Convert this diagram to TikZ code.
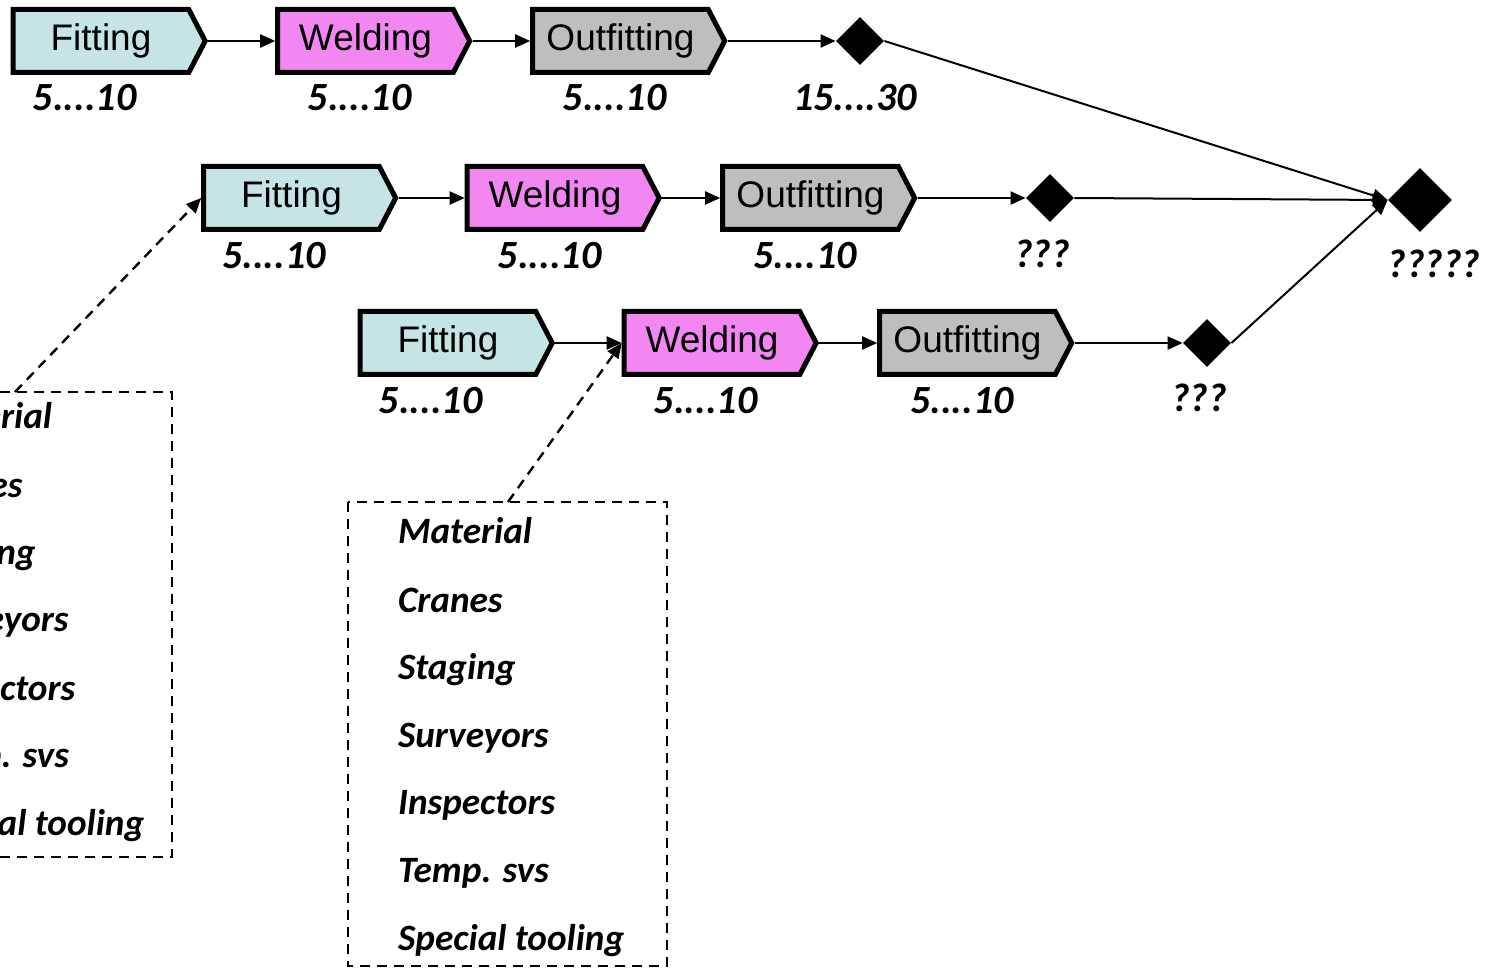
\documentclass[tikz,border=0pt]{standalone}
\usepackage{fontspec}
\setmainfont{Liberation Sans}
\newfontfamily\calfont{Carlito}
\usetikzlibrary{shapes.symbols,shapes.geometric,arrows.meta}

\definecolor{fitcol}{RGB}{198,228,228}
\definecolor{weldcol}{RGB}{242,135,242}
\definecolor{outcol}{RGB}{190,190,190}

\begin{document}
\begin{tikzpicture}[x=0.5pt,y=-0.5pt,
  stage/.style={signal, signal to=east, signal pointer angle=125,
    draw=black, line width=2.5pt, minimum width=96pt, minimum height=31.5pt,
    inner sep=0pt, font=\fontsize{18.5}{20}\selectfont},
  fitting/.style={stage, fill=fitcol},
  welding/.style={stage, fill=weldcol},
  outfitting/.style={stage, fill=outcol},
  milestone/.style={diamond, aspect=1, fill=black, inner sep=0pt, minimum size=24pt},
  dur/.style={font=\calfont\bfseries\itshape\fontsize{20}{22}\selectfont},
  res/.style={anchor=base west, font=\calfont\bfseries\itshape\fontsize{18.6}{20}\selectfont},
  flow/.style={line width=1pt, -{Triangle[length=7.5pt,width=6.5pt]}},
  callout/.style={line width=1.2pt, dash pattern=on 5pt off 3.5pt},
  calloutarrow/.style={callout, -{Triangle[length=7.5pt,width=6.5pt]}}
]
\useasboundingbox (0,0) rectangle (1501,968);
\clip (0,0) rectangle (1501,968);

% row 1
\node[fitting]    (f1) at (101,41)   {Fitting};
\node[welding]    (w1) at (365.5,41) {Welding};
\node[outfitting] (o1) at (620.5,41) {Outfitting};
\node[milestone]  (m1) at (860,41)   {};
% row 2
\node[fitting]    (f2) at (291.5,198) {Fitting};
\node[welding]    (w2) at (555,198)   {Welding};
\node[outfitting] (o2) at (810.5,198) {Outfitting};
\node[milestone]  (m2) at (1050,198)  {};
% row 3
\node[fitting]    (f3) at (448,343)   {Fitting};
\node[welding]    (w3) at (712,343)   {Welding};
\node[outfitting] (o3) at (967.5,343) {Outfitting};
\node[milestone]  (m3) at (1207,343)  {};
% final milestone
\node[milestone, minimum size=32pt] (mf) at (1420,200) {};

% durations
\node[dur] (d11) at (84.5,97.5)  {5....10};
\node[dur] (d12) at (359.5,97.5) {5....10};
\node[dur] (d13) at (614.5,97.5) {5....10};
\node[dur] (d14) at (855,97.5)   {15....30};
\node[dur] (d21) at (274,256)    {5....10};
\node[dur] (d22) at (549.5,256)  {5....10};
\node[dur] (d23) at (805,256)    {5....10};
\node[dur] (d24) at (1042,254)   {???};
\node[dur] (d31) at (430.5,400.5) {5....10};
\node[dur] (d32) at (705.5,400.5) {5....10};
\node[dur] (d33) at (962,400.5)   {5....10};
\node[dur] (d34) at (1199,398)    {???};
\node[dur] (dff) at (1434,264)    {?????};

% sequence arrows
\draw[flow] (f1.east) -- (w1.west);
\draw[flow] (w1.east) -- (o1.west);
\draw[flow] (o1.east) -- (m1.west);
\draw[flow] (f2.east) -- (w2.west);
\draw[flow] (w2.east) -- (o2.west);
\draw[flow] (o2.east) -- (m2.west);
\draw[flow] (f3.east) -- (w3.west);
\draw[flow] (w3.east) -- (o3.west);
\draw[flow] (o3.east) -- (m3.west);
\draw[flow] (m1.east) -- (mf.west);
\draw[flow] (m2.east) -- (mf.west);
\draw[flow] (m3.east) -- (mf.west);

% resource list for the second fitting stage
\draw[callout] (-147,392) rectangle (172,857);
\coordinate (c1) at (15,392);
\draw[calloutarrow] (c1) -- (f2.west);
\node[res] (r11) at (-89,429)   {Material};
\node[res] (r12) at (-89,497)   {Cranes};
\node[res] (r13) at (-89,564)   {Staging};
\node[res] (r14) at (-89,632)   {Surveyors};
\node[res] (r15) at (-89,700)   {Inspectors};
\node[res] (r16) at (-89,767)   {Temp. svs};
\node[res] (r17) at (-89,835)   {Special tooling};

% resource list for the third welding stage
\draw[callout] (348,502) rectangle (667,966);
\coordinate (c2) at (508,502);
\draw[calloutarrow] (c2) -- (w3.west);
\node[res] (r21) at (391,544)   {Material};
\node[res] (r22) at (391,612)   {Cranes};
\node[res] (r23) at (391,679)   {Staging};
\node[res] (r24) at (391,747)   {Surveyors};
\node[res] (r25) at (391,814)   {Inspectors};
\node[res] (r26) at (391,882)   {Temp. svs};
\node[res] (r27) at (391,950)   {Special tooling};
\end{tikzpicture}
\end{document}
